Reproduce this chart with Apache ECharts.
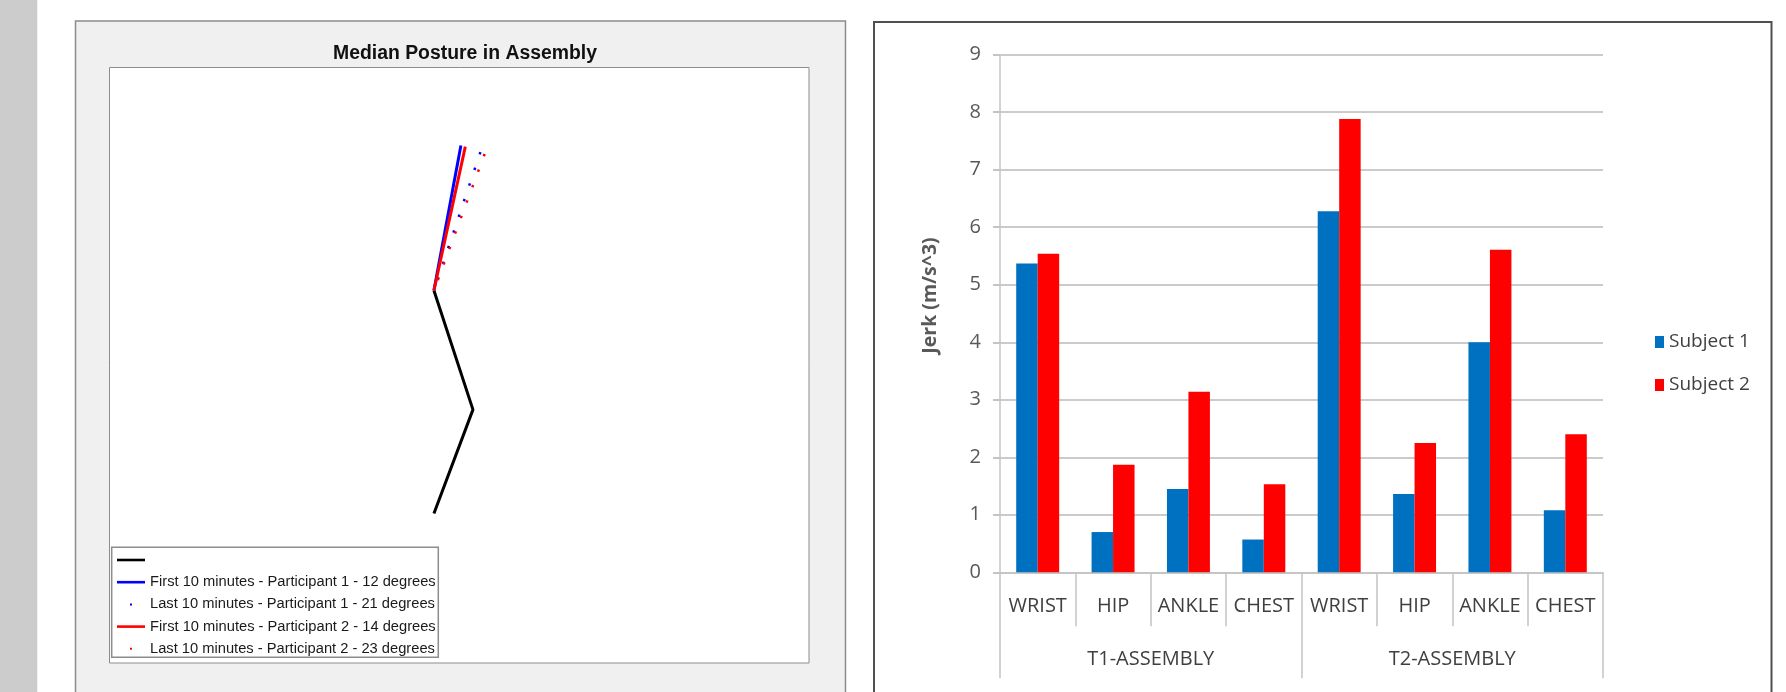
<!DOCTYPE html>
<html>
<head>
<meta charset="utf-8">
<script src="https://cdn.jsdelivr.net/npm/echarts@6/dist/echarts.min.js"></script>
<style>
  html, body { margin: 0; padding: 0; background: #ffffff; }
  #chart { width: 1786px; height: 692px; }
</style>
</head>
<body>
<div id="chart"></div>
<script>
// ---- Posture figure data (sagittal stick figure, arbitrary length units) ----
const hipPoint = [0, 0];
const kneePoint = [0.2, -0.534];
const anklePoint = [0, -1];
const trunkLength = 0.665;
// trunk inclination from vertical, degrees (same order as the legend entries below)
const trunkAngles = [12, 21, 14, 23];
const postureNames = [
  ' ',
  'First 10 minutes - Participant 1 - 12 degrees',
  'Last 10 minutes - Participant 1 - 21 degrees',
  'First 10 minutes - Participant 2 - 14 degrees',
  'Last 10 minutes - Participant 2 - 23 degrees'
];

// ---- Jerk bar chart data ----
const bodySites = ['WRIST', 'HIP', 'ANKLE', 'CHEST', 'WRIST', 'HIP', 'ANKLE', 'CHEST'];
const taskGroups = ['T1-ASSEMBLY', 'T2-ASSEMBLY'];
const subjectNames = ['Subject 1', 'Subject 2'];
const subject1Jerk = [5.37, 0.70, 1.45, 0.57, 6.28, 1.36, 4.00, 1.08];
const subject2Jerk = [5.54, 1.87, 3.14, 1.53, 7.88, 2.25, 5.61, 2.40];
const jerkAxisMin = 0;
const jerkAxisMax = 9;
const jerkAxisStep = 1;

const plotFont = '"Liberation Sans", Arial, sans-serif';
const officeFont = '"Open Sans", "Noto Sans", sans-serif';

function trunkTop(angleDeg) {
  const a = angleDeg * Math.PI / 180;
  return [hipPoint[0] + trunkLength * Math.sin(a), hipPoint[1] + trunkLength * Math.cos(a)];
}

const lineIcon = 'path://M0,0M28,0M28,12M0,12M0,4.7h28v2.6h-28z';
const dotIcon = 'path://M0,0M28,0M28,12M0,12M13,5h2v2h-2z';

const chart = echarts.init(document.getElementById('chart'), null, { renderer: 'canvas' });

const option = {
  animation: false,
  backgroundColor: '#ffffff',
  graphic: [
    // grey strip on the far left
    { type: 'rect', z: -10, shape: { x: 0, y: 0, width: 37.3, height: 692 }, style: { fill: '#cccccc' } },
    // figure window of the posture plot
    { type: 'rect', z: -10, shape: { x: 75.5, y: 21, width: 770, height: 700 },
      style: { fill: '#f0f0f0', stroke: '#8c8c8c', lineWidth: 1.5 } },
    // frame of the jerk chart
    { type: 'rect', z: -10, shape: { x: 874, y: 22, width: 897.5, height: 700 },
      style: { fill: '#ffffff', stroke: '#505050', lineWidth: 2 } },
    // posture legend box
    { type: 'rect', z: 1, shape: { x: 111.7, y: 547.3, width: 326.6, height: 110 },
      style: { fill: '#ffffff', stroke: '#8c8c8c', lineWidth: 1.5 } }
  ],
  title: [{
    text: 'Median Posture in Assembly',
    left: 460,
    top: 39.5,
    textAlign: 'center',
    textStyle: { fontFamily: plotFont, fontSize: 19.4, fontWeight: 'bold', color: '#111111' }
  }],
  legend: [
    {
      orient: 'vertical',
      left: 112,
      top: 545,
      itemWidth: 28,
      itemHeight: 12,
      itemGap: 2.2,
      selectedMode: false,
      textStyle: { fontFamily: plotFont, fontSize: 14.7, color: '#1a1a1a', lineHeight: 20 }
    },
    {
      data: subjectNames,
      orient: 'vertical',
      left: 1650,
      top: 326,
      icon: 'rect',
      itemWidth: 9,
      itemHeight: 12,
      itemGap: 21,
      selectedMode: false,
      textStyle: { fontFamily: officeFont, fontSize: 19, color: '#404040', lineHeight: 22 }
    }
  ],
  grid: [
    { left: 109.5, top: 67.5, width: 699.5, height: 595.5, show: true,
      backgroundColor: '#ffffff', borderColor: '#8c8c8c', borderWidth: 1 },
    { left: 1000, top: 54.7, width: 603, height: 517.6 }
  ],
  xAxis: [
    { gridIndex: 0, type: 'value', min: -1.6626, max: 1.9222, show: false },
    {
      gridIndex: 1, type: 'category', data: bodySites, position: 'bottom',
      axisLine: { show: true, lineStyle: { color: '#c4c4c4', width: 1.5 } },
      axisTick: { show: true, interval: 0, length: 54, lineStyle: { color: '#c4c4c4', width: 1.5 } },
      axisLabel: { interval: 0, margin: 24, fontFamily: officeFont, fontSize: 20, color: '#3f3f3f' }
    },
    {
      gridIndex: 1, type: 'category', data: taskGroups, position: 'bottom',
      axisLine: { show: false },
      axisTick: { show: true, interval: 0, length: 106, lineStyle: { color: '#c4c4c4', width: 1.5 } },
      axisLabel: { interval: 0, margin: 77, fontFamily: officeFont, fontSize: 20, color: '#3f3f3f' }
    }
  ],
  yAxis: [
    { gridIndex: 0, type: 'value', min: -1.67, max: 1.0, show: false },
    {
      gridIndex: 1, type: 'value', min: jerkAxisMin, max: jerkAxisMax, interval: jerkAxisStep,
      axisLine: { show: true, lineStyle: { color: '#c4c4c4', width: 1.5 } },
      axisTick: { show: true, length: 7, lineStyle: { color: '#c4c4c4', width: 2 } },
      splitLine: { show: true, lineStyle: { color: '#cbcbcb', width: 2 } },
      axisLabel: { margin: 19, fontFamily: officeFont, fontSize: 20, color: '#595959' },
      name: 'Jerk (m/s^3)',
      nameLocation: 'middle',
      nameRotate: 90,
      nameGap: 60,
      nameTextStyle: { fontFamily: officeFont, fontSize: 19.5, fontWeight: 'bold', color: '#595959', padding: [0, 0, 0, 36] }
    }
  ],
  series: [
    {
      name: postureNames[0], type: 'line', xAxisIndex: 0, yAxisIndex: 0,
      data: [hipPoint, kneePoint, anklePoint],
      symbol: 'none', color: '#000000',
      lineStyle: { color: '#000000', width: 3 }
    },
    {
      name: postureNames[1], type: 'line', xAxisIndex: 0, yAxisIndex: 0,
      data: [hipPoint, trunkTop(trunkAngles[0])],
      symbol: 'none', color: '#0000ff',
      lineStyle: { color: '#0000ff', width: 3 }
    },
    {
      name: postureNames[2], type: 'line', xAxisIndex: 0, yAxisIndex: 0,
      data: [trunkTop(trunkAngles[1]), hipPoint],
      symbol: 'none', color: '#0000ff',
      lineStyle: { color: '#0000ff', width: 2.5, type: [2.4, 14.1], cap: 'butt' }
    },
    {
      name: postureNames[3], type: 'line', xAxisIndex: 0, yAxisIndex: 0,
      data: [hipPoint, trunkTop(trunkAngles[2])],
      symbol: 'none', color: '#ff0000',
      lineStyle: { color: '#ff0000', width: 3 }
    },
    {
      name: postureNames[4], type: 'line', xAxisIndex: 0, yAxisIndex: 0,
      data: [trunkTop(trunkAngles[3]), hipPoint],
      symbol: 'none', color: '#ff0000',
      lineStyle: { color: '#ff0000', width: 2.5, type: [2.4, 14.1], cap: 'butt' }
    },
    {
      name: subjectNames[0], type: 'bar', xAxisIndex: 1, yAxisIndex: 1,
      data: subject1Jerk, color: '#0070c0',
      barGap: '0%', barCategoryGap: '43%'
    },
    {
      name: subjectNames[1], type: 'bar', xAxisIndex: 1, yAxisIndex: 1,
      data: subject2Jerk, color: '#ff0000',
      barGap: '0%', barCategoryGap: '43%'
    }
  ]
};

// legend icons for the posture plot: solid strokes and single dots
option.legend[0].data = postureNames.map((n, i) => ({
  name: n,
  icon: (i === 2 || i === 4) ? dotIcon : lineIcon
}));

chart.setOption(option);
</script>
</body>
</html>
